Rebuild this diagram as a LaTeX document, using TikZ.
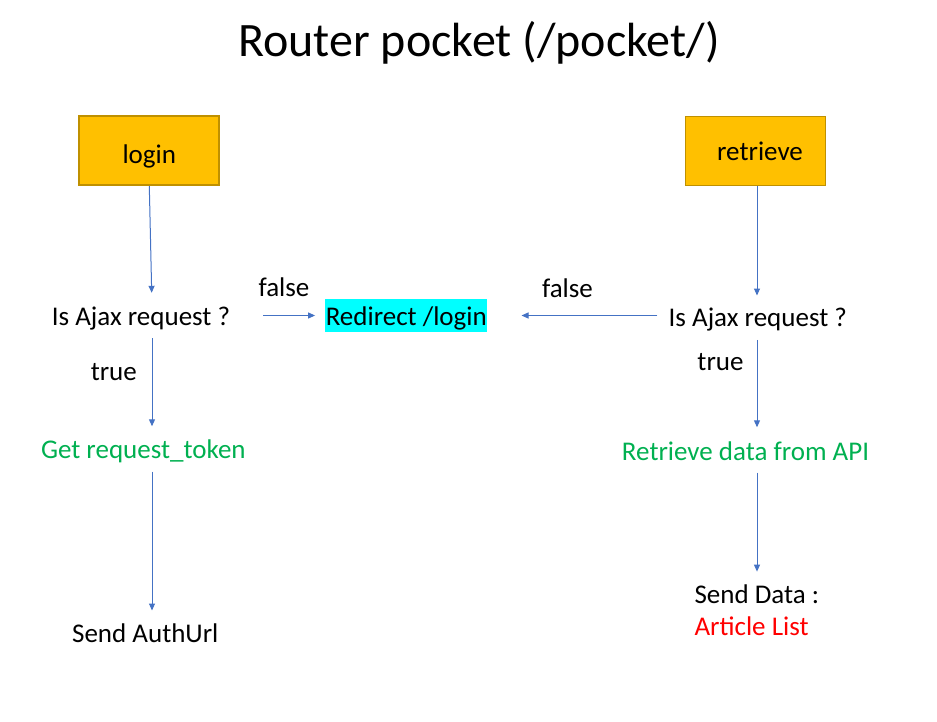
\documentclass[tikz,border=0pt]{standalone}
\usepackage{fontspec}
\setmainfont{Carlito}
\usetikzlibrary{arrows.meta}
\definecolor{boxfill}{HTML}{FFC000}
\definecolor{boxline}{HTML}{BF9000}
\definecolor{flowblue}{HTML}{4472C4}
\definecolor{okgreen}{HTML}{00B050}
\definecolor{redirectcyan}{HTML}{00FFFF}

\begin{document}
\begin{tikzpicture}[x=1pt,y=-1pt,
	txt/.style={font=\fontsize{27}{32}\selectfont, inner sep=0pt, text height=19pt, text depth=6pt, anchor=base},
	route/.style={draw=boxline, line width=1.8pt, fill=boxfill, minimum width=140pt, minimum height=69pt, font=\fontsize{27}{32}\selectfont, text height=19pt, text depth=0pt},
	flow/.style={draw=flowblue, line width=1pt, -{Triangle[width=6pt,length=7pt]}}]
	\useasboundingbox (0,0) rectangle (937,722);
	\node[txt, font=\fontsize{48}{56}\selectfont] (title) at (479,56.7) {Router pocket (/pocket/)};
	\node[route, text height=25pt] (login) at (149.3,150.7) {login};
	\node[route] (retrieve) at (755.5,151) {\hspace*{9pt}retrieve};
	\node[txt] (ajaxL) at (141,325) {Is Ajax request ?};
	\node[txt] (falseL) at (284,296) {false};
	\node[txt, fill=redirectcyan, inner xsep=0.5pt, text height=26pt, text depth=7pt] (redirect) at (406.3,325) {Redirect /login};
	\node[txt] (falseR) at (567.5,297.3) {false};
	\node[txt] (ajaxR) at (757.8,326.7) {Is Ajax request ?};
	\node[txt] (trueL) at (113.8,380.7) {true};
	\node[txt] (trueR) at (720.5,370.7) {true};
	\node[txt, text=okgreen] (token) at (143.3,458.5) {Get request\_token};
	\node[txt, text=okgreen] (api) at (745.5,460) {Retrieve data from API};
	\node[txt] (authurl) at (145.3,642.7) {Send AuthUrl};
	\node[txt, anchor=base west] (senddata) at (694.3,603.3) {Send Data :};
	\node[txt, anchor=base west, text=red] (articles) at (694.3,635) {Article List};
	% vertical lines of the two columns
	\coordinate (spineL) at (152,0);
	\coordinate (spineR) at (757,0);
	\draw[flow, shorten >=13pt] (login.south) -- (ajaxL.north -| spineL);
	\draw[flow, shorten <=7pt, shorten >=13pt] (ajaxL.south -| spineL) -- (token.north -| spineL);
	\draw[flow, shorten <=7pt, shorten >=13pt] (token.south -| spineL) -- (authurl.north -| spineL);
	\draw[flow, shorten <=33pt, shorten >=10pt] (ajaxL.east |- redirect.west) -- (redirect.west);
	\draw[flow, shorten >=12pt] (retrieve.south -| spineR) -- (ajaxR.north -| spineR);
	\draw[flow, shorten <=7pt, shorten >=13.5pt] (ajaxR.south -| spineR) -- (api.north -| spineR);
	\draw[flow, shorten <=6.5pt, shorten >=12.5pt] (api.south -| spineR) -- (senddata.north -| spineR);
	\draw[flow, shorten <=11pt, shorten >=34pt] (ajaxR.west |- redirect.east) -- (redirect.east);
\end{tikzpicture}
\end{document}
